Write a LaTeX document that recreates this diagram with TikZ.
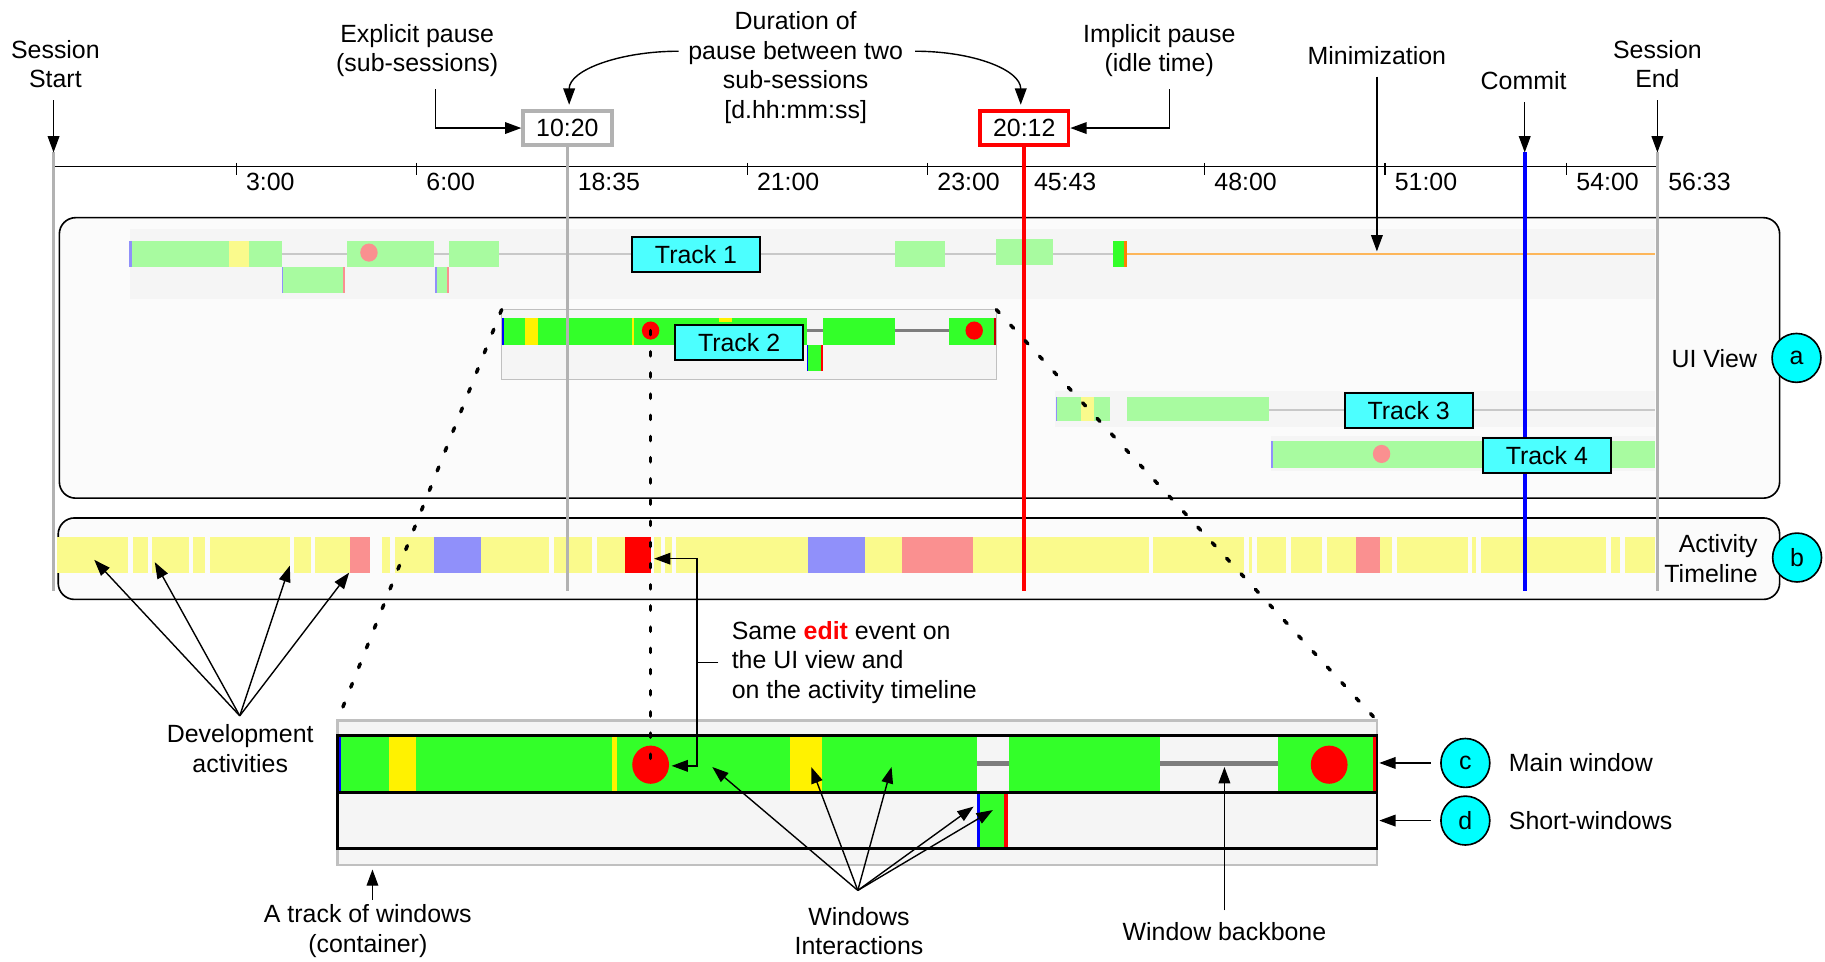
\documentclass[tikz,border=0pt]{standalone}
\usepackage{fontspec}
\setmainfont{Liberation Sans}
\usepackage{xcolor}
\usepackage{tikz}
\usetikzlibrary{positioning,arrows.meta,calc}

\definecolor{fadegreen}{RGB}{168,251,160}
\definecolor{livegreen}{RGB}{51,255,41}
\definecolor{fadeyellow}{RGB}{250,250,140}
\definecolor{fadepink}{RGB}{250,144,144}
\definecolor{fadeblue}{RGB}{144,144,250}
\definecolor{labelcyan}{RGB}{76,255,255}
\definecolor{badgecyan}{RGB}{0,255,255}
\definecolor{minorange}{RGB}{253,182,90}
\definecolor{bandgray}{RGB}{245,245,245}
\definecolor{panelgray}{RGB}{251,251,251}
\definecolor{rimgray}{RGB}{192,192,192}
\definecolor{bonegray}{RGB}{125,125,125}
\definecolor{linegray}{RGB}{200,200,200}

\tikzset{
  arr/.style={-{Triangle[length=7pt,width=5pt]}, line width=0.6pt},
  lbl/.style={align=center, inner sep=0pt},
  tracklbl/.style={draw, line width=0.9pt, fill=labelcyan, minimum width=55pt, minimum height=15pt, inner sep=0pt},
  badge/.style={circle, draw, line width=0.7pt, fill=badgecyan, minimum size=21pt, inner sep=0pt},
  pausebox/.style={draw, line width=1.6pt, fill=white, minimum width=38pt, minimum height=14.4pt, inner sep=0pt},
  marker/.style={line width=1.6pt},
  zoomline/.style={line width=1.5pt, line cap=round, dash pattern=on 1.8pt off 7.3pt},
}

\begin{document}
\begin{tikzpicture}[x=0.5pt, y=-0.5pt, font=\fontsize{10.7}{12.7}\selectfont]
  \useasboundingbox (0,0) rectangle (1568,826);

  % Panels
  \draw[fill=panelgray, rounded corners=7pt, line width=0.7pt] (51,187) rectangle (1529,428);
  \draw[fill=panelgray, rounded corners=7pt, line width=0.7pt] (50,445) rectangle (1529,515);

  % Time axis
  \draw[line width=0.8pt] (46,143) -- (1424,143);
  \foreach \x/\t in {203/3:00, 358/6:00, 642/21:00, 797/23:00, 1035/48:00, 1190/51:00, 1346/54:00} {
    \draw[line width=0.6pt] (\x,140) -- (\x,150);
    \node[anchor=west, inner sep=0pt] (tk\x) at (\x+8,156) {\t};
  }
  \foreach \x/\t in {487/18:35, 879/45:43, 1424/56:33}
    \node[anchor=west, inner sep=0pt] (tk\x) at (\x+9,156) {\t};

  % Track 1
  \fill[bandgray] (112,197) rectangle (1422,257);
  \draw[linegray, line width=0.8pt] (197,218) -- (956,218);
  \draw[minorange, line width=1pt] (967,218) -- (1422,218);
  \foreach \a/\b/\c in {112/197/fadegreen, 197/214/fadeyellow, 214/242/fadegreen,
                        298/373/fadegreen, 386/429/fadegreen, 769/812/fadegreen}
    \fill[\c] (\a,207) rectangle (\b,229);
  \fill[fadegreen] (856,205) rectangle (905,228);
  \fill[livegreen] (956,207) rectangle (967,229);
  \fill[orange] (966,207) rectangle (968,229);
  \fill[fadeblue] (111,207) rectangle (113,229);
  \fill[fadegreen] (242,229) rectangle (296,252);
  \fill[fadegreen] (374,229) rectangle (385,252);
  \foreach \x in {242,374} \fill[fadeblue] (\x,229) rectangle (\x+1.5,252);
  \foreach \x in {295,384} \fill[fadepink] (\x,229) rectangle (\x+1.5,252);
  \fill[fadepink] (317,217) ellipse[x radius=3.75pt, y radius=3.9pt];

  % Track 2
  \filldraw[fill=bandgray, draw=rimgray, line width=0.6pt] (431,266) rectangle (856,326);
  \draw[bonegray, line width=1pt] (692,284) -- (816,284);
  \foreach \a/\b/\c in {431/451/livegreen, 451/462/yellow, 462/543/livegreen, 543/545/yellow,
                        545/693/livegreen, 707/769/livegreen, 815/855/livegreen}
    \fill[\c] (\a,273) rectangle (\b,296);
  \fill[blue] (431,273) rectangle (433,296);
  \fill[yellow] (618,273) rectangle (629,277);
  \fill[red!75!black] (854,273) rectangle (856,296);
  \fill[livegreen] (693,296) rectangle (706,319);
  \fill[blue] (693,296) rectangle (694.5,319);
  \fill[red] (705,296) rectangle (707,319);
  \foreach \x in {559,837} \fill[red] (\x,284) ellipse[x radius=3.75pt, y radius=3.9pt];

  % Track 3
  \fill[bandgray] (906,336) rectangle (1422,367);
  \draw[linegray, line width=0.8pt] (1090,352) -- (1422,352);
  \foreach \a/\b/\c in {908/929/fadegreen, 929/940/fadeyellow, 940/954/fadegreen, 968/1090/fadegreen}
    \fill[\c] (\a,341) rectangle (\b,362);
  \fill[fadeblue] (907,341) rectangle (908.5,362);

  % Track 4
  \fill[bandgray] (1092,375) rectangle (1422,405);
  \fill[fadegreen] (1093,379) rectangle (1422,402);
  \fill[fadeblue] (1092,379) rectangle (1093.5,402);
  \fill[fadepink] (1187,390) ellipse[x radius=3.75pt, y radius=3.9pt];

  % Activity timeline
  \foreach \a/\b/\c in {49/110/fadeyellow, 114/127/fadeyellow, 131/162/fadeyellow, 166/176/fadeyellow,
      180/249/fadeyellow, 253/267/fadeyellow, 271/301/fadeyellow, 301/318/fadepink, 328/335/fadeyellow,
      339/373/fadeyellow, 373/413/fadeblue, 413/472/fadeyellow, 476/509/fadeyellow, 513/537/fadeyellow,
      537/559/red, 562/568/fadeyellow, 571/577/fadeyellow, 581/694/fadeyellow, 694/743/fadeblue,
      743/775/fadeyellow, 775/836/fadepink, 836/987/fadeyellow, 991/1069/fadeyellow, 1073/1076/fadeyellow,
      1080/1105/fadeyellow, 1109/1136/fadeyellow, 1140/1165/fadeyellow, 1165/1186/fadepink,
      1186/1196/fadeyellow, 1200/1261/fadeyellow, 1265/1268/fadeyellow, 1272/1380/fadeyellow,
      1384/1392/fadeyellow, 1396/1422/fadeyellow}
    \fill[\c] (\a,461) rectangle (\b,492);

  % Session markers and pauses
  \coordinate (bot) at (0,508);
  \coordinate (tst) at (46,131);
  \coordinate (tcm) at (1310,131);
  \coordinate (tse) at (1424,131);
  \node[pausebox, draw=black!30] (p1) at (487.5,110) {10:20};
  \node[pausebox, draw=red] (p2) at (880,110) {20:12};
  \draw[marker, black!30] (tst) -- (tst |- bot);
  \draw[marker, black!30] (p1.south) -- (p1.south |- bot);
  \draw[marker, red] (p2.south) -- (p2.south |- bot);
  \draw[marker, blue] (tcm) -- (tcm |- bot);
  \draw[marker, black!30] (tse) -- (tse |- bot);

  % Track labels
  \node[tracklbl] (trk1) at (598,219) {Track 1};
  \node[tracklbl] (trk2) at (635,294.3) {Track 2};
  \node[tracklbl] (trk3) at (1210.3,352.5) {Track 3};
  \node[tracklbl] (trk4) at (1329,391) {Track 4};

  % Panel captions
  \node[anchor=east, inner sep=0pt] (uiv) at (1510,308) {UI View};
  \node[badge] (ca) at (1543.5,307.5) {a};
  \node[anchor=east, align=right, inner sep=0pt] (actl) at (1510.5,480) {Activity\\Timeline};
  \node[badge] (cb) at (1544,479) {b};

  % Top annotations
  \node[lbl] (sstart) at (47.6,55) {Session\\Start};
  \node[lbl] (expl) at (358.4,43.5) {Explicit pause\\(sub-sessions)};
  \node[lbl] (dur) at (683.6,58) {Duration of\\pause between two\\sub-sessions\\{[d.hh:mm:ss]}};
  \node[lbl] (impl) at (996,43.5) {Implicit pause\\(idle time)};
  \node[lbl] (minim) at (1183,47.5) {Minimization};
  \node[lbl] (commit) at (1309,69.5) {Commit};
  \node[lbl] (send) at (1424,55) {Session\\End};

  \draw[arr, shorten <=5pt] (sstart.south -| tst) -- (tst);
  \draw[arr, shorten <=5pt] (commit.south -| tcm) -- (tcm);
  \draw[arr, shorten <=5pt] (send.south -| tse) -- (tse);
  \draw[arr, shorten <=5pt] ($(expl.south)+(16,0)$) |- (p1.west);
  \draw[arr, shorten <=5pt] ($(impl.south)+(8.6,0)$) |- (p2.east);
  \draw[arr] ($(dur.west)+(-8,-14)$) .. controls +(-50,0) and +(0,-30) .. ($(p1.north)+(1.5,-4)$);
  \draw[arr] ($(dur.east)+(10,-14)$) .. controls +(50,0) and +(0,-30) .. ($(p2.north)+(-3,-4)$);
  \coordinate (mino) at (1183,216);
  \draw[arr, shorten <=5pt] (minim.south) -- (mino);

  % Zoomed track of windows
  \filldraw[fill=bandgray, draw=rimgray, line width=1pt] (290,619) rectangle (1183,743);
  \draw[bonegray, line width=2.5pt] (838,656) -- (1099,656);
  \foreach \a/\b/\c in {290/293/blue, 293/334/livegreen, 334/357/yellow, 357/526/livegreen, 526/530/yellow,
      530/679/livegreen, 679/706/yellow, 706/839/livegreen, 867/997/livegreen, 1098/1180/livegreen, 1180/1183/red}
    \fill[\c] (\a,632) rectangle (\b,681);
  \fill[livegreen] (839,681) rectangle (866,729);
  \fill[blue] (839,681) rectangle (842,729);
  \fill[red] (863,681) rectangle (866,729);
  \foreach \x in {559,1142} \fill[red] (\x,657) ellipse[x radius=7.9pt, y radius=8.2pt];
  \draw[line width=1.2pt] (290,632) rectangle (1183,681);
  \draw[line width=1.2pt] (290,681) rectangle (1183,729);

  \node[badge] (cc) at (1259,655.5) {c};
  \node[badge] (cd) at (1259,705) {d};
  \node[anchor=west, inner sep=0pt] (mainw) at (1296,655) {Main window};
  \node[anchor=west, inner sep=0pt] (shortw) at (1296,705) {Short-windows};
  \coordinate (mwin) at (1185,655);
  \draw[arr, shorten <=4pt] (cc.west) -- (cc.west -| mwin);
  \draw[arr, shorten <=4pt] (cd.west) -- (cd.west -| mwin);

  % Bottom annotations
  \node[lbl] (devact) at (206.4,643) {Development\\activities};
  \coordinate (devhub) at (206,615);
  \foreach \n/\x/\y in {1/81/481, 2/133/483, 3/249/486, 4/300/492} {
    \coordinate (da\n) at (\x,\y);
    \draw[arr] (devhub) -- (da\n);
  }
  \node[anchor=west, align=left, inner sep=0pt] (same) at (628.3,569)
    {Same {\bfseries\color{red}edit} event on\\the UI view and\\on the activity timeline};
  \coordinate (edtop) at (562,480);
  \coordinate (edbot) at (577,658);
  \draw[line width=0.6pt, shorten <=5.5pt] (same.west) -- ++(-29.3,0) coordinate (brk);
  \draw[arr] (brk) |- (edtop);
  \draw[arr] (brk) |- (edbot);

  \node[lbl] (trkwin) at (316,800) {A track of windows\\(container)};
  \coordinate (cont) at (320,747);
  \draw[arr, shorten <=2pt] (trkwin.north -| cont) -- (cont);

  \node[lbl] (winint) at (738,800) {Windows\\Interactions};
  \coordinate (wihub) at (737,765);
  \foreach \n/\x/\y in {1/612/659, 2/697/659, 3/766/659, 4/836.5/693, 5/853/696} {
    \coordinate (wi\n) at (\x,\y);
    \draw[arr] (wihub) -- (wi\n);
  }

  \node[lbl] (wbb) at (1052,800.4) {Window backbone};
  \coordinate (bbtip) at (1052,659);
  \draw[arr, shorten <=5pt] (wbb.north) -- (bbtip);

  % Zoom guides
  \coordinate (t2nw) at (431,266);
  \coordinate (t2ne) at (856,266);
  \coordinate (bwnw) at (290,619);
  \coordinate (bwne) at (1183,619);
  \coordinate (dot2) at (559,284);
  \coordinate (dotb) at (559,657);
  \draw[zoomline] (t2nw) -- (bwnw);
  \draw[zoomline] (t2ne) -- (bwne);
  \draw[zoomline] (dot2) -- (dotb);
\end{tikzpicture}
\end{document}
